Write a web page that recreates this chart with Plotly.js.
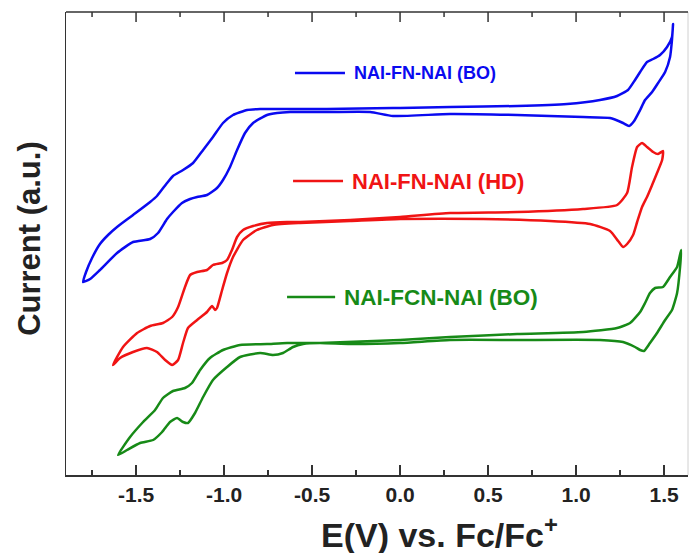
<!DOCTYPE html>
<html>
<head>
<meta charset="utf-8">
<script src="https://cdn.plot.ly/plotly-3.0.1.min.js"></script>
<style>html,body{margin:0;padding:0;background:#fff;}#chart{width:692px;height:553px;}</style>
</head>
<body>
<div id="chart"></div>
<script>
// Series names
const seriesNames = ["NAI-FN-NAI (BO)", "NAI-FN-NAI (HD)", "NAI-FCN-NAI (BO)"];

// NAI-FN-NAI (BO) — potential (V vs Fc/Fc+) and current (a.u.)
const boE = [0,0.284,0.665,0.949,1.136,1.233,1.295,1.335,1.364,1.403,1.438,1.477,1.517,1.545,1.551,
  1.545,1.534,1.506,1.466,1.432,1.392,1.364,1.330,1.301,1.267,1.193,1.040,0.665,0.284,-0.040,-0.170,-0.398,-0.625,-0.699,
  -0.756,-0.835,-0.881,-0.926,-0.966,-1.006,-1.040,-1.097,-1.153,-1.193,-1.239,-1.290,-1.324,-1.375,-1.420,-1.517,-1.608,-1.705,-1.761,-1.801,
  -1.784,-1.750,-1.705,-1.659,-1.608,-1.517,-1.420,-1.381,-1.324,-1.290,-1.233,-1.176,-1.119,-1.063,-1.006,-0.949,-0.869,-0.795,-0.415,-0.040,0];
const boI = [3.67,3.68,3.69,3.71,3.75,3.79,3.85,3.95,4.03,4.13,4.16,4.20,4.28,4.38,4.51,
  4.35,4.18,4.03,3.92,3.83,3.75,3.65,3.54,3.49,3.52,3.57,3.58,3.60,3.61,3.59,3.63,3.63,3.63,3.62,
  3.60,3.52,3.42,3.25,3.08,2.95,2.87,2.80,2.78,2.76,2.72,2.63,2.56,2.42,2.36,2.33,2.22,2.05,1.96,1.93,
  2.03,2.17,2.31,2.40,2.48,2.60,2.73,2.79,2.92,2.99,3.05,3.12,3.25,3.38,3.52,3.60,3.65,3.66,3.66,3.67,3.67];

// NAI-FN-NAI (HD)
const hdE = [0,0.284,0.665,1.040,1.233,1.290,1.318,1.347,1.375,1.403,1.438,1.466,1.494,
  1.489,1.460,1.432,1.403,1.375,1.347,1.324,1.290,1.267,1.239,1.193,1.080,0.852,0.472,0,-0.284,-0.568,-0.722,
  -0.813,-0.892,-0.949,-0.983,-1.011,-1.040,-1.051,-1.068,-1.097,-1.153,-1.205,-1.233,-1.261,-1.295,-1.335,-1.381,-1.438,-1.517,-1.591,-1.631,
  -1.574,-1.494,-1.420,-1.347,-1.295,-1.261,-1.222,-1.193,-1.153,-1.097,-1.063,-1.011,-0.983,-0.955,-0.926,-0.892,-0.835,-0.756,-0.642,-0.568,-0.284,0];
const hdI = [2.58,2.62,2.63,2.66,2.70,2.82,3.08,3.28,3.32,3.28,3.23,3.21,3.24,
  3.15,3.02,2.90,2.78,2.68,2.53,2.40,2.31,2.28,2.34,2.44,2.51,2.54,2.56,2.56,2.54,2.52,2.50,
  2.45,2.35,2.18,2.02,1.85,1.67,1.65,1.69,1.63,1.55,1.47,1.32,1.15,1.10,1.15,1.23,1.27,1.23,1.17,1.10,
  1.28,1.42,1.49,1.52,1.58,1.68,1.88,2.00,2.03,2.05,2.10,2.12,2.15,2.25,2.38,2.45,2.49,2.52,2.53,2.53,2.55,2.58];

// NAI-FCN-NAI (BO)
const fcnE = [0,0.284,0.665,1.040,1.233,1.307,1.364,1.392,1.420,1.449,1.494,1.534,1.574,1.597,
  1.591,1.574,1.545,1.506,1.460,1.420,1.386,1.364,1.335,1.267,1.136,0.665,0.284,0,-0.284,-0.455,-0.551,
  -0.608,-0.665,-0.722,-0.795,-0.909,-0.983,-1.063,-1.119,-1.165,-1.205,-1.233,-1.267,-1.307,-1.352,-1.403,-1.477,-1.551,-1.602,
  -1.534,-1.460,-1.392,-1.347,-1.290,-1.222,-1.182,-1.136,-1.080,-1.006,-0.909,-0.756,-0.642,-0.455,0];
const fcnI = [1.35,1.38,1.41,1.43,1.47,1.52,1.63,1.72,1.82,1.87,1.88,1.98,2.08,2.25,
  2.08,1.82,1.65,1.55,1.42,1.32,1.24,1.25,1.28,1.33,1.35,1.35,1.35,1.32,1.31,1.32,1.31,
  1.28,1.22,1.20,1.22,1.18,1.08,0.95,0.78,0.62,0.52,0.53,0.57,0.53,0.43,0.35,0.32,0.25,0.20,
  0.38,0.53,0.65,0.77,0.84,0.87,0.92,1.05,1.17,1.25,1.30,1.31,1.32,1.32,1.35];

// x tick values / labels
const tickVals = [-1.5,-1.0,-0.5,0.0,0.5,1.0,1.5];
const tickText = ["-1.5","-1.0","-0.5","0.0","0.5","1.0","1.5"];
const xTitle = "E(V) vs. Fc/Fc<sup>+</sup>";
const yTitle = "Current (a.u.)";

const colors = ["#0a0af0", "#f01414", "#178a17"];
const F = "Liberation Sans, Arial, sans-serif";
const xRange = [-1.898, 1.636];
const axisColor = "#333";

function tr(x, y, i) {
  return {x: x, y: y, name: seriesNames[i], type: "scatter", mode: "lines",
    line: {color: colors[i], width: 2.5, shape: "spline", smoothing: 0.5},
    showlegend: false, hoverinfo: "skip"};
}
const data = [tr(boE, boI, 0), tr(hdE, hdI, 1), tr(fcnE, fcnI, 2)];

// legend placement (layout only)
const leg = [
  {x0: -0.597, x1: -0.313, tx: -0.273, y: 4.02, size: 18},
  {x0: -0.608, x1: -0.324, tx: -0.284, y: 2.94, size: 22},
  {x0: -0.642, x1: -0.369, tx: -0.330, y: 1.78, size: 22.5}
];
const shapes = leg.map((l, i) => ({type: "line", xref: "x", yref: "y", x0: l.x0, x1: l.x1, y0: l.y, y1: l.y,
  line: {color: colors[i], width: 2.5}}));
// right frame edge (faint) and top frame edge
shapes.push({type: "line", xref: "paper", yref: "paper", x0: 1, x1: 1, y0: 0, y1: 1, line: {color: "#d0d0d0", width: 1}});
shapes.push({type: "line", xref: "paper", yref: "paper", x0: 0, x1: 1, y0: 1, y1: 1, line: {color: axisColor, width: 1.5}});
// top frame ticks (mirror of the bottom axis: majors every 0.5, minors every 0.25)
for (let k = -7; k <= 6; k++) {
  const len = (k % 2 === 0) ? 10 : 5;
  shapes.push({type: "line", xref: "x", yref: "paper", ysizemode: "pixel", yanchor: 1,
    x0: k * 0.25, x1: k * 0.25, y0: 0, y1: -len, line: {color: axisColor, width: 1.5}});
}
const annotations = leg.map((l, i) => ({x: l.tx, y: l.y, xref: "x", yref: "y", text: seriesNames[i],
  showarrow: false, xanchor: "left", yanchor: "middle",
  font: {family: F, size: l.size, color: colors[i], weight: "bold"}}));
annotations.push({xref: "paper", yref: "paper", x: 0.601, y: -0.125, text: xTitle, showarrow: false,
  xanchor: "center", yanchor: "middle", font: {family: F, size: 34, color: "#222", weight: "bold"}});
annotations.push({xref: "paper", yref: "paper", x: -0.058, y: 0.512, text: yTitle, showarrow: false, textangle: -90,
  xanchor: "center", yanchor: "middle", font: {family: F, size: 31, color: "#222", weight: "bold"}});

const layout = {
  width: 692, height: 553,
  margin: {l: 66, r: 4, t: 12, b: 78},
  paper_bgcolor: "#fff", plot_bgcolor: "#fff",
  showlegend: false,
  xaxis: {
    range: xRange, tickmode: "array", tickvals: tickVals, ticktext: tickText,
    ticks: "inside", ticklen: 10, tickwidth: 1.5, tickcolor: axisColor,
    minor: {dtick: 0.25, tick0: 0, ticks: "inside", ticklen: 5, tickwidth: 1.5, tickcolor: axisColor},
    showline: true, linecolor: axisColor, linewidth: 1.5, mirror: false,
    showgrid: false, zeroline: false,
    tickfont: {family: F, size: 21, color: "#222", weight: "bold"}
  },
  yaxis: {
    range: [0, 4.63],
    showticklabels: false, ticks: "",
    showline: true, linecolor: axisColor, linewidth: 1.5, mirror: false,
    showgrid: false, zeroline: false
  },
  shapes: shapes,
  annotations: annotations
};

Plotly.newPlot("chart", data, layout, {staticPlot: true, displayModeBar: false});
</script>
</body>
</html>
